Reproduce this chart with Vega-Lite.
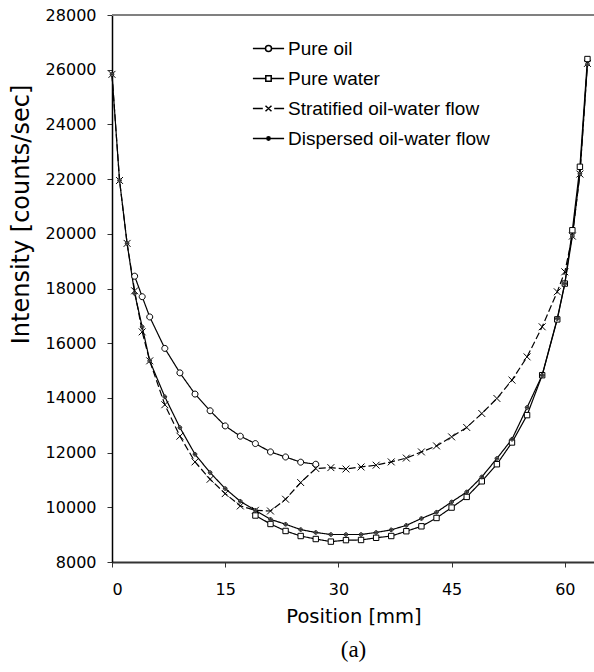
{
  "$schema": "https://vega.github.io/schema/vega-lite/v6.json",
  "width": 483,
  "height": 547,
  "autosize": "none",
  "padding": {"left": 112, "top": 15, "right": 0, "bottom": 110},
  "background": "white",
  "config": {
    "view": {"stroke": null},
    "font": "Liberation Sans",
    "axis": {"grid": false, "labelFont": "DejaVu Sans", "titleFont": "DejaVu Sans", "labelColor": "black", "titleColor": "black", "titleFontWeight": "normal", "tickColor": "#333", "domainColor": "#333", "tickSize": 5},
    "legend": {"orient": "none", "legendX": 147, "legendY": 24, "padding": 0, "symbolSize": 36, "labelFontSize": 19, "labelFont": "Liberation Sans", "labelColor": "black", "labelOffset": 10, "rowPadding": 10, "labelLimit": 400}
  },
  "title": {"text": "(a)", "orient": "bottom", "anchor": "middle", "font": "Liberation Serif", "fontSize": 23, "fontWeight": "normal", "color": "black", "offset": 13},
  "data": {"values": [
    {"x": 3, "s": "Pure oil", "y": 18450},
    {"x": 4, "s": "Pure oil", "y": 17700},
    {"x": 5, "s": "Pure oil", "y": 16960},
    {"x": 7, "s": "Pure oil", "y": 15810},
    {"x": 9, "s": "Pure oil", "y": 14915},
    {"x": 11, "s": "Pure oil", "y": 14140},
    {"x": 13, "s": "Pure oil", "y": 13530},
    {"x": 15, "s": "Pure oil", "y": 12975},
    {"x": 17, "s": "Pure oil", "y": 12600},
    {"x": 19, "s": "Pure oil", "y": 12330},
    {"x": 21, "s": "Pure oil", "y": 12025},
    {"x": 23, "s": "Pure oil", "y": 11840},
    {"x": 25, "s": "Pure oil", "y": 11650},
    {"x": 27, "s": "Pure oil", "y": 11575},

    {"x": 19, "s": "Pure water", "y": 9700},
    {"x": 21, "s": "Pure water", "y": 9390},
    {"x": 23, "s": "Pure water", "y": 9135},
    {"x": 25, "s": "Pure water", "y": 8950},
    {"x": 27, "s": "Pure water", "y": 8840},
    {"x": 29, "s": "Pure water", "y": 8745},
    {"x": 31, "s": "Pure water", "y": 8800},
    {"x": 33, "s": "Pure water", "y": 8805},
    {"x": 35, "s": "Pure water", "y": 8885},
    {"x": 37, "s": "Pure water", "y": 8950},
    {"x": 39, "s": "Pure water", "y": 9125},
    {"x": 41, "s": "Pure water", "y": 9305},
    {"x": 43, "s": "Pure water", "y": 9610},
    {"x": 45, "s": "Pure water", "y": 9990},
    {"x": 47, "s": "Pure water", "y": 10380},
    {"x": 49, "s": "Pure water", "y": 10950},
    {"x": 51, "s": "Pure water", "y": 11575},
    {"x": 53, "s": "Pure water", "y": 12370},
    {"x": 55, "s": "Pure water", "y": 13370},
    {"x": 57, "s": "Pure water", "y": 14830},
    {"x": 59, "s": "Pure water", "y": 16870},
    {"x": 60, "s": "Pure water", "y": 18180},
    {"x": 61, "s": "Pure water", "y": 20130},
    {"x": 62, "s": "Pure water", "y": 22450},
    {"x": 63, "s": "Pure water", "y": 26390},

    {"x": 0, "s": "Stratified oil-water flow", "y": 25830},
    {"x": 1, "s": "Stratified oil-water flow", "y": 21950},
    {"x": 2, "s": "Stratified oil-water flow", "y": 19650},
    {"x": 3, "s": "Stratified oil-water flow", "y": 17915},
    {"x": 4, "s": "Stratified oil-water flow", "y": 16415},
    {"x": 5, "s": "Stratified oil-water flow", "y": 15355},
    {"x": 7, "s": "Stratified oil-water flow", "y": 13750},
    {"x": 9, "s": "Stratified oil-water flow", "y": 12600},
    {"x": 11, "s": "Stratified oil-water flow", "y": 11660},
    {"x": 13, "s": "Stratified oil-water flow", "y": 11025},
    {"x": 15, "s": "Stratified oil-water flow", "y": 10500},
    {"x": 17, "s": "Stratified oil-water flow", "y": 10050},
    {"x": 19, "s": "Stratified oil-water flow", "y": 9890},
    {"x": 21, "s": "Stratified oil-water flow", "y": 9865},
    {"x": 23, "s": "Stratified oil-water flow", "y": 10295},
    {"x": 25, "s": "Stratified oil-water flow", "y": 10905},
    {"x": 27, "s": "Stratified oil-water flow", "y": 11420},
    {"x": 29, "s": "Stratified oil-water flow", "y": 11450},
    {"x": 31, "s": "Stratified oil-water flow", "y": 11400},
    {"x": 33, "s": "Stratified oil-water flow", "y": 11475},
    {"x": 35, "s": "Stratified oil-water flow", "y": 11540},
    {"x": 37, "s": "Stratified oil-water flow", "y": 11660},
    {"x": 39, "s": "Stratified oil-water flow", "y": 11800},
    {"x": 41, "s": "Stratified oil-water flow", "y": 12025},
    {"x": 43, "s": "Stratified oil-water flow", "y": 12245},
    {"x": 45, "s": "Stratified oil-water flow", "y": 12575},
    {"x": 47, "s": "Stratified oil-water flow", "y": 12920},
    {"x": 49, "s": "Stratified oil-water flow", "y": 13430},
    {"x": 51, "s": "Stratified oil-water flow", "y": 13980},
    {"x": 53, "s": "Stratified oil-water flow", "y": 14650},
    {"x": 55, "s": "Stratified oil-water flow", "y": 15500},
    {"x": 57, "s": "Stratified oil-water flow", "y": 16600},
    {"x": 59, "s": "Stratified oil-water flow", "y": 17880},
    {"x": 60, "s": "Stratified oil-water flow", "y": 18610},
    {"x": 61, "s": "Stratified oil-water flow", "y": 19915},
    {"x": 62, "s": "Stratified oil-water flow", "y": 22185},
    {"x": 63, "s": "Stratified oil-water flow", "y": 26230},

    {"x": 0, "s": "Dispersed oil-water flow", "y": 25830},
    {"x": 1, "s": "Dispersed oil-water flow", "y": 21950},
    {"x": 2, "s": "Dispersed oil-water flow", "y": 19650},
    {"x": 3, "s": "Dispersed oil-water flow", "y": 17820},
    {"x": 4, "s": "Dispersed oil-water flow", "y": 16600},
    {"x": 5, "s": "Dispersed oil-water flow", "y": 15355},
    {"x": 7, "s": "Dispersed oil-water flow", "y": 14040},
    {"x": 9, "s": "Dispersed oil-water flow", "y": 12915},
    {"x": 11, "s": "Dispersed oil-water flow", "y": 11940},
    {"x": 13, "s": "Dispersed oil-water flow", "y": 11270},
    {"x": 15, "s": "Dispersed oil-water flow", "y": 10685},
    {"x": 17, "s": "Dispersed oil-water flow", "y": 10220},
    {"x": 19, "s": "Dispersed oil-water flow", "y": 9890},
    {"x": 21, "s": "Dispersed oil-water flow", "y": 9560},
    {"x": 23, "s": "Dispersed oil-water flow", "y": 9380},
    {"x": 25, "s": "Dispersed oil-water flow", "y": 9185},
    {"x": 27, "s": "Dispersed oil-water flow", "y": 9080},
    {"x": 29, "s": "Dispersed oil-water flow", "y": 9005},
    {"x": 31, "s": "Dispersed oil-water flow", "y": 9005},
    {"x": 33, "s": "Dispersed oil-water flow", "y": 9005},
    {"x": 35, "s": "Dispersed oil-water flow", "y": 9080},
    {"x": 37, "s": "Dispersed oil-water flow", "y": 9175},
    {"x": 39, "s": "Dispersed oil-water flow", "y": 9340},
    {"x": 41, "s": "Dispersed oil-water flow", "y": 9590},
    {"x": 43, "s": "Dispersed oil-water flow", "y": 9820},
    {"x": 45, "s": "Dispersed oil-water flow", "y": 10195},
    {"x": 47, "s": "Dispersed oil-water flow", "y": 10560},
    {"x": 49, "s": "Dispersed oil-water flow", "y": 11110},
    {"x": 51, "s": "Dispersed oil-water flow", "y": 11785},
    {"x": 53, "s": "Dispersed oil-water flow", "y": 12490},
    {"x": 55, "s": "Dispersed oil-water flow", "y": 13650},
    {"x": 57, "s": "Dispersed oil-water flow", "y": 14830},
    {"x": 59, "s": "Dispersed oil-water flow", "y": 16900},
    {"x": 60, "s": "Dispersed oil-water flow", "y": 18180},
    {"x": 61, "s": "Dispersed oil-water flow", "y": 19915},
    {"x": 62, "s": "Dispersed oil-water flow", "y": 22200},
    {"x": 63, "s": "Dispersed oil-water flow", "y": 26200}
  ]},
  "encoding": {
    "x": {"field": "x", "type": "quantitative", "scale": {"domain": [0, 64], "nice": false},
      "axis": {"values": [0, 15, 30, 45, 60], "title": "Position [mm]", "labelFontSize": 16, "titleFontSize": 19.5, "labelPadding": 14, "titlePadding": 10, "domainWidth": 2}},
    "y": {"field": "y", "type": "quantitative", "scale": {"domain": [8000, 28000], "nice": false, "zero": false},
      "axis": {"values": [8000, 10000, 12000, 14000, 16000, 18000, 20000, 22000, 24000, 26000, 28000], "format": "d", "title": "Intensity [counts/sec]", "labelFontSize": 16, "titleFontSize": 24, "labelPadding": 11, "titleX": -79, "titleY": 199, "titleBaseline": "bottom", "titleAlign": "center", "domainWidth": 1.5, "domainColor": "black"}}
  },
  "resolve": {"scale": {"shape": "independent"}, "legend": {"shape": "independent"}},
  "layer": [
    {
      "mark": {"type": "rule", "stroke": "#808080", "strokeWidth": 2},
      "encoding": {"y": {"datum": 28000}, "x": {"datum": 0}, "x2": {"datum": 64}}
    },
    {
      "mark": {"type": "line", "stroke": "black", "strokeWidth": 1.2},
      "encoding": {
        "strokeDash": {"field": "s", "type": "nominal", "legend": null,
          "scale": {"domain": ["Pure oil", "Pure water", "Stratified oil-water flow", "Dispersed oil-water flow"], "range": [[1, 0], [1, 0], [7, 3], [1, 0]]}}
      }
    },
    {
      "mark": {"type": "point", "filled": false, "fill": "white", "stroke": "black", "strokeWidth": 1, "size": 36, "opacity": 1},
      "encoding": {
        "shape": {"field": "s", "type": "nominal", "legend": null,
          "scale": {"domain": ["Pure oil", "Pure water", "Stratified oil-water flow", "Dispersed oil-water flow"],
            "range": ["M-1,0A1,1 0 1,0 1,0A1,1 0 1,0 -1,0Z", "M-0.9,-0.9H0.9V0.9H-0.9Z", "M-1.15,-1.15L1.15,1.15M-1.15,1.15L1.15,-1.15", "M-0.6,0A0.6,0.6 0 1,0 0.6,0A0.6,0.6 0 1,0 -0.6,0ZM-0.3,0A0.3,0.3 0 1,0 0.3,0A0.3,0.3 0 1,0 -0.3,0ZM-0.08,0A0.08,0.08 0 1,0 0.08,0A0.08,0.08 0 1,0 -0.08,0Z"]}}
      }
    },
    {
      "transform": [{"filter": "datum.x < 0"}],
      "mark": {"type": "point", "filled": false, "fill": "white", "stroke": "black", "strokeWidth": 1.2, "opacity": 1},
      "encoding": {
        "shape": {"field": "s", "type": "nominal",
          "scale": {"domain": ["Pure oil", "Pure water", "Stratified oil-water flow", "Dispersed oil-water flow"],
            "range": [
              "M-5.2,0H-1M1,0H5.2M-1,0A1,1 0 1,0 1,0A1,1 0 1,0 -1,0Z",
              "M-5.2,0H-0.9M0.9,0H5.2M-0.9,-0.9H0.9V0.9H-0.9Z",
              "M-5.2,0H-1.9M1.9,0H5.2M-1,-0.9L1,0.9M-1,0.9L1,-0.9",
              "M-5.2,0H5.2M-0.55,0A0.55,0.55 0 1,0 0.55,0A0.55,0.55 0 1,0 -0.55,0ZM-0.25,0A0.25,0.25 0 1,0 0.25,0A0.25,0.25 0 1,0 -0.25,0Z"
            ]},
          "legend": {"title": null}}
      }
    }
  ]
}
